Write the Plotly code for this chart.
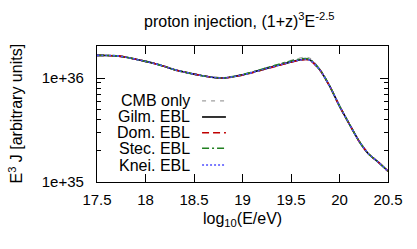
import plotly.graph_objects as go

log_e = [17.5, 17.6, 17.7, 17.8, 17.9, 18.0, 18.1, 18.2, 18.3, 18.4, 18.5, 18.6,
         18.7, 18.8, 18.9, 19.0, 19.1, 19.2, 19.3, 19.4, 19.5, 19.6, 19.65, 19.7,
         19.8, 19.9, 20.0, 20.1, 20.2, 20.3, 20.4, 20.5]

gilm = [1.652e36, 1.648e36, 1.633e36, 1.585e36, 1.514e36, 1.445e36, 1.374e36, 1.288e36,
        1.202e36, 1.140e36, 1.089e36, 1.047e36, 1.012e36, 1.000e36, 1.028e36, 1.072e36,
        1.130e36, 1.202e36, 1.274e36, 1.349e36, 1.429e36, 1.496e36, 1.514e36, 1.479e36,
        1.190e36, 0.832e36, 0.537e36, 0.363e36, 0.248e36, 0.186e36, 0.155e36, 0.127e36]

cmb = [1.652e36, 1.648e36, 1.633e36, 1.585e36, 1.514e36, 1.445e36, 1.374e36, 1.288e36,
       1.202e36, 1.140e36, 1.089e36, 1.047e36, 1.012e36, 1.002e36, 1.032e36, 1.080e36,
       1.142e36, 1.220e36, 1.300e36, 1.385e36, 1.480e36, 1.560e36, 1.600e36, 1.540e36,
       1.210e36, 0.835e36, 0.538e36, 0.363e36, 0.248e36, 0.186e36, 0.155e36, 0.127e36]

dom = [1.652e36, 1.648e36, 1.633e36, 1.585e36, 1.514e36, 1.445e36, 1.374e36, 1.288e36,
       1.202e36, 1.140e36, 1.089e36, 1.047e36, 1.012e36, 0.998e36, 1.024e36, 1.066e36,
       1.122e36, 1.193e36, 1.265e36, 1.340e36, 1.420e36, 1.490e36, 1.510e36, 1.476e36,
       1.188e36, 0.830e36, 0.536e36, 0.362e36, 0.248e36, 0.186e36, 0.155e36, 0.127e36]

stec = [1.652e36, 1.648e36, 1.633e36, 1.585e36, 1.514e36, 1.445e36, 1.374e36, 1.288e36,
        1.202e36, 1.140e36, 1.089e36, 1.047e36, 1.012e36, 1.001e36, 1.031e36, 1.078e36,
        1.140e36, 1.215e36, 1.292e36, 1.372e36, 1.455e36, 1.525e36, 1.540e36, 1.500e36,
        1.200e36, 0.834e36, 0.538e36, 0.363e36, 0.248e36, 0.186e36, 0.155e36, 0.127e36]

knei = [1.652e36, 1.648e36, 1.633e36, 1.585e36, 1.514e36, 1.445e36, 1.374e36, 1.288e36,
        1.202e36, 1.140e36, 1.089e36, 1.047e36, 1.012e36, 1.000e36, 1.027e36, 1.070e36,
        1.128e36, 1.200e36, 1.272e36, 1.346e36, 1.426e36, 1.494e36, 1.512e36, 1.478e36,
        1.190e36, 0.832e36, 0.537e36, 0.363e36, 0.248e36, 0.186e36, 0.155e36, 0.127e36]

series_names = ["CMB only", "Gilm. EBL", "Dom. EBL", "Stec. EBL", "Knei. EBL"]
series_values = [cmb, gilm, dom, stec, knei]
x_tick_vals = [17.5, 18, 18.5, 19, 19.5, 20, 20.5]
x_tick_text = ["17.5", "18", "18.5", "19", "19.5", "20", "20.5"]
y_tick_vals = [1e35, 1e36]
y_tick_text = ["1e+35", "1e+36"]

styles = [
    dict(color="#a0a0a0", dash="4px,5px", width=1.2),
    dict(color="#000000", dash="solid", width=1.6),
    dict(color="#c00000", dash="7px,4px", width=1.6),
    dict(color="#208020", dash="7px,3px,2px,3px", width=1.6),
    dict(color="#5050ff", dash="2px,2px", width=1.6),
]

FONT = "Liberation Sans, Arial, sans-serif"

fig = go.Figure()
for name, vals, st in zip(series_names, series_values, styles):
    fig.add_trace(go.Scatter(x=log_e, y=vals, mode="lines", name=name,
                             line=dict(color=st["color"], dash=st["dash"],
                                       width=st["width"], shape="spline", smoothing=0.6),
                             showlegend=False))

# manual legend (text right, sample line to the right, gnuplot style)
leg_y = [0.596, 0.478, 0.3625, 0.248, 0.125]
for name, st, yy in zip(series_names, styles, leg_y):
    fig.add_annotation(x=0.325, y=yy, xref="paper", yref="paper", text=name,
                       showarrow=False, xanchor="right", yanchor="middle",
                       font=dict(family=FONT, size=16, color="black"))
    fig.add_shape(type="line", xref="paper", yref="paper", x0=0.361, x1=0.443,
                  y0=yy, y1=yy, line=dict(color=st["color"], dash=st["dash"], width=st["width"]))

fig.add_annotation(x=0.49, y=1.0, xref="paper", yref="paper", yshift=26,
                   text="proton injection, (1+z)<sup>3</sup>E<sup>-2.5</sup>",
                   showarrow=False, xanchor="center", yanchor="middle",
                   font=dict(family=FONT, size=16, color="black"))
fig.add_annotation(x=0.5, y=0.0, xref="paper", yref="paper", yshift=-37,
                   text="log<sub>10</sub>(E/eV)",
                   showarrow=False, xanchor="center", yanchor="middle",
                   font=dict(family=FONT, size=16, color="black"))
fig.add_annotation(x=-0.28, y=0.5, xref="paper", yref="paper", textangle=-90,
                   text="E<sup>3</sup> J [arbitrary units]",
                   showarrow=False, xanchor="center", yanchor="middle",
                   font=dict(family=FONT, size=16, color="black"))

minor_vals = [k * 1e35 for k in range(2, 10)] + [2e36]

fig.update_layout(
    width=417, height=249,
    margin=dict(l=97, r=29, t=46, b=67, pad=0),
    paper_bgcolor="white", plot_bgcolor="white",
    font=dict(family=FONT, size=15, color="black"),
    showlegend=False,
    xaxis=dict(range=[17.5, 20.5], tickvals=x_tick_vals, ticktext=x_tick_text,
               ticks="inside", ticklen=8, tickwidth=1.2, tickcolor="black",
               showline=True, linecolor="black", linewidth=1.2, mirror="allticks",
               showgrid=False, zeroline=False, ticklabelstandoff=4),
    yaxis=dict(type="log", range=[35, 36.3077], tickvals=y_tick_vals, ticktext=y_tick_text,
               ticks="inside", ticklen=8, tickwidth=1.2, tickcolor="black",
               showline=True, linecolor="black", linewidth=1.2, mirror="allticks",
               showgrid=False, zeroline=False, ticklabelstandoff=9,
               minor=dict(tickvals=minor_vals, ticks="inside", ticklen=4,
                          tickwidth=1, tickcolor="black", showgrid=False)),
)

# remove the browser's default 8px body margin so the figure sits at the top-left corner
fig.write_html("out.html", config={"displayModeBar": False},
               post_script="document.body.style.margin='0';")
